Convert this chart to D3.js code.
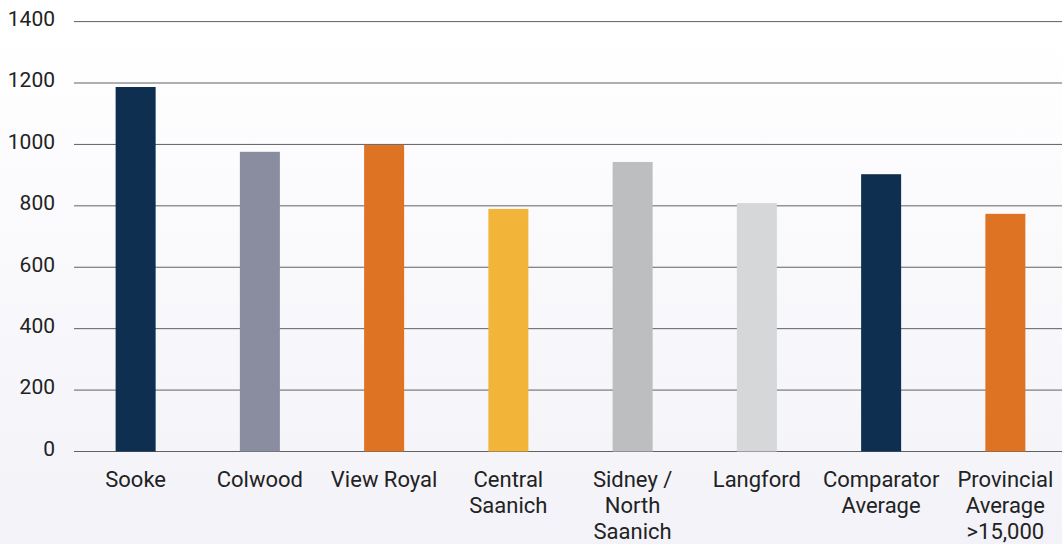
<!DOCTYPE html>
<html>
<head>
<meta charset="utf-8">
<script src="https://cdn.jsdelivr.net/npm/d3@7"></script>
<style>
  html, body { margin: 0; padding: 0; background: #fff; }
  svg { display: block; }
  text { font-family: Roboto, "Noto Sans", sans-serif; fill: #222; }
</style>
</head>
<body>
<svg id="chart" width="1062" height="544"></svg>
<script>
const categories = ["Sooke", "Colwood", "View Royal", "Central Saanich", "Sidney / North Saanich", "Langford", "Comparator Average", "Provincial Average >15,000"];
const labelLines = [["Sooke"], ["Colwood"], ["View Royal"], ["Central", "Saanich"], ["Sidney /", "North", "Saanich"], ["Langford"], ["Comparator", "Average"], ["Provincial", "Average", ">15,000"]];
const values = [1187, 976, 998, 790, 943, 809, 903, 774];
const barColors = ["#0e2f50", "#8a8d9f", "#de7323", "#f2b53a", "#bdbec0", "#d6d7d9", "#0e2f50", "#de7323"];
const yTicks = [0, 200, 400, 600, 800, 1000, 1200, 1400];

const svg = d3.select("#chart");
const W = 1062, H = 544;

const defs = svg.append("defs");
const grad = defs.append("linearGradient").attr("id", "bg").attr("x1", 0).attr("y1", 0).attr("x2", 0).attr("y2", 1);
grad.append("stop").attr("offset", "0%").attr("stop-color", "#ffffff");
grad.append("stop").attr("offset", "15%").attr("stop-color", "#fefeff");
grad.append("stop").attr("offset", "100%").attr("stop-color", "#f2f2f8");
svg.append("rect").attr("width", W).attr("height", H).attr("fill", "url(#bg)");

const x = d3.scaleBand().domain(categories).range([73.5, 1067.5]).paddingInner(0.678).paddingOuter(0.339);
const y = d3.scaleLinear().domain([0, 1400]).range([451.5, 21.6]);

// gridlines
svg.append("g").selectAll("line").data(yTicks).join("line")
  .attr("x1", 74).attr("x2", W)
  .attr("y1", d => y(d)).attr("y2", d => y(d))
  .attr("stroke", "#616161").attr("stroke-width", 1);

// y tick labels
svg.append("g").selectAll("text").data(yTicks).join("text")
  .attr("x", 55).attr("y", d => y(d) - 3)
  .attr("dy", "0.35em")
  .attr("text-anchor", "end")
  .attr("font-size", 21)
  .text(d => d);

// bars
svg.append("g").selectAll("rect").data(categories).join("rect")
  .attr("x", d => x(d))
  .attr("width", x.bandwidth())
  .attr("y", (d, i) => y(values[i]))
  .attr("height", (d, i) => y(0) - y(values[i]))
  .attr("fill", (d, i) => barColors[i]);

// category labels
const lab = svg.append("g").selectAll("text").data(categories).join("text")
  .attr("text-anchor", "middle")
  .attr("font-size", 22)
  .attr("x", d => x(d) + x.bandwidth() / 2)
  .attr("y", 487);
lab.each(function(d, i) {
  const t = d3.select(this);
  labelLines[i].forEach((ln, j) => {
    t.append("tspan").attr("x", x(d) + x.bandwidth() / 2).attr("y", 487 + j * 26).text(ln);
  });
});
</script>
</body>
</html>
